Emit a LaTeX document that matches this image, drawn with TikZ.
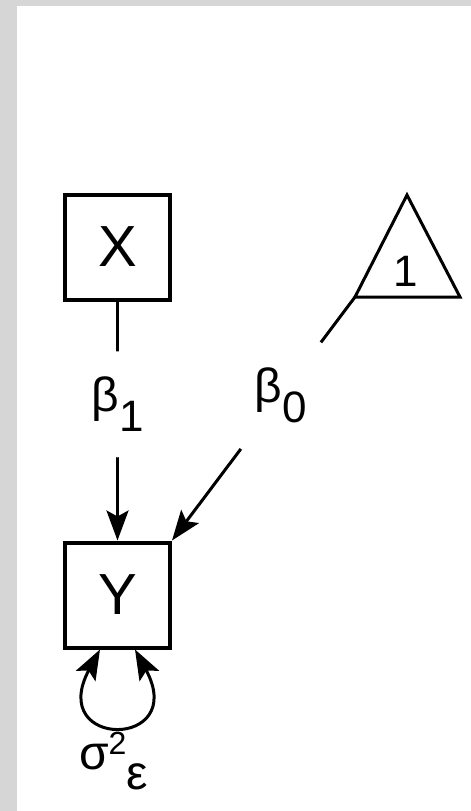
\documentclass[tikz,border=0pt]{standalone}
\usepackage{fontspec}
\setmainfont{Liberation Sans}
\usetikzlibrary{arrows.meta}

\begin{document}
\begin{tikzpicture}[x=0.5pt, y=-0.5pt, node distance=174pt, >={Stealth[length=15pt,width=11pt,inset=3pt]},
    var/.style = {draw, rectangle, line width=2pt, minimum size=52.5pt, inner sep=0pt, font=\fontsize{29}{29}\selectfont},
    lbl/.style = {circle, fill=white, inner sep=0pt, font=\fontsize{24}{24}\selectfont},
    sub/.style = {font=\fontsize{22}{22}\selectfont}]
    % frame
    \fill[gray!32] (0,0) rectangle (471,811);
    \fill[white] (17,6) rectangle (471,811);
    \useasboundingbox (0,0) rectangle (471,811);
    % variables
    \node[var] (X) at (117.5,247) {X};
    \node[var] (Y) [below of = X] {Y};
    % constant
    \coordinate (t1) at (407,195);
    \coordinate (t2) at (355,297);
    \coordinate (t3) at (460,297);
    \draw[line width=1.5pt] (t1) -- (t2) -- (t3) -- cycle;
    \node[sub] (one) at (406,271) {1};
    % paths
    \draw[->, line width=1.5pt] (X) to node[lbl, minimum size=53pt, pos=0.43] {β\raisebox{-10pt}{\fontsize{22}{22}\selectfont 1}} (Y);
    \draw[->, line width=1.5pt] (t2) to node[lbl, minimum size=66.5pt, pos=0.405] {β\raisebox{-10pt}{\fontsize{22}{22}\selectfont 0}} (Y.north east);
    \draw[<->, line width=1.5pt] ([xshift=-8.75pt]Y.south) .. controls +(-27pt,-50pt) and +(27pt,-50pt) .. ([xshift=8.75pt]Y.south);
    \node[font=\fontsize{24}{24}\selectfont] (sig) at ([xshift=-2pt,yshift=-56pt]Y.south) {σ\raisebox{7.5pt}{\fontsize{16}{16}\selectfont 2}\raisebox{-10pt}{ε}};
\end{tikzpicture}
\end{document}
